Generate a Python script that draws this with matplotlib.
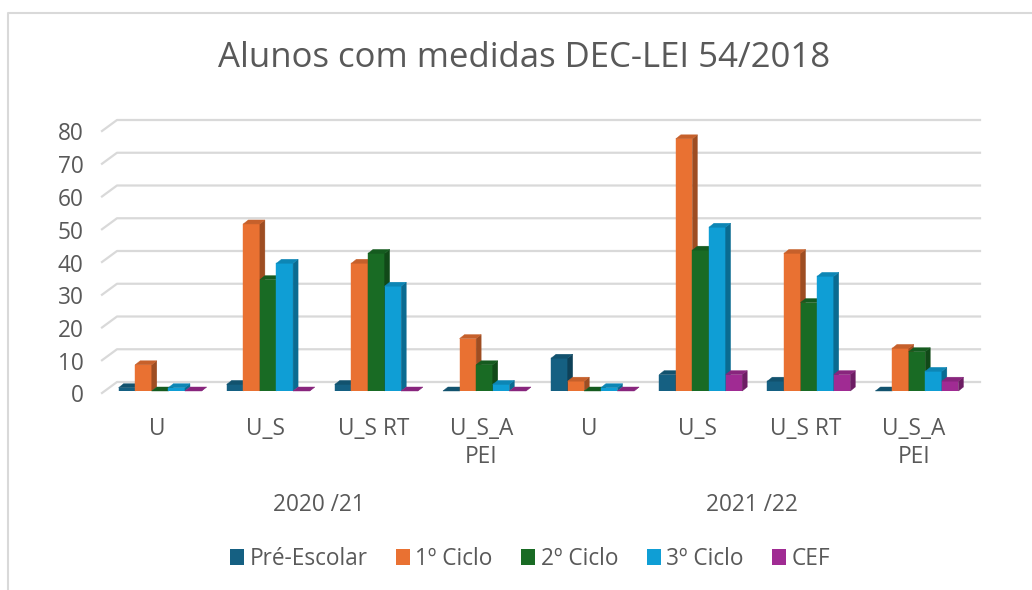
import matplotlib
matplotlib.use('Agg')
import matplotlib.pyplot as plt
import numpy as np
from matplotlib.patches import Polygon, Patch
from matplotlib.lines import Line2D
from matplotlib.transforms import IdentityTransform, ScaledTranslation
import matplotlib.colors as mcolors

# ---------------- data ----------------
categories = ['U', 'U_S', 'U_S RT', 'U_S_A\nPEI', 'U', 'U_S', 'U_S RT', 'U_S_A\nPEI']
years = ['2020 /21', '2021 /22']
series_names = ['Pré-Escolar', '1º Ciclo', '2º Ciclo', '3º Ciclo', 'CEF']
pre_escolar = [1, 2, 2, 0, 10, 5, 3, 0]
ciclo_1 = [8, 51, 39, 16, 3, 77, 42, 13]
ciclo_2 = [0, 34, 42, 8, 0, 43, 27, 12]
ciclo_3 = [1, 39, 32, 2, 1, 50, 35, 6]
cef = [0, 0, 0, 0, 0, 5, 5, 3]
y_ticks = [0, 10, 20, 30, 40, 50, 60, 70, 80]
title = 'Alunos com medidas DEC-LEI 54/2018'

series_values = [pre_escolar, ciclo_1, ciclo_2, ciclo_3, cef]
colors = ['#156082', '#E97132', '#196B24', '#0F9ED5', '#A02B93']

# ---------------- style ----------------
plt.rcParams['font.family'] = ['Open Sans', 'DejaVu Sans']
TXT = '#595959'
GRID = '#D9D9D9'
FS = 16.3

W, H = 1032, 590
fig = plt.figure(figsize=(W / 100, H / 100), dpi=100)
fig.patch.set_facecolor('white')

ax_left, ax_right = 103, 968
ax_bottom, ax_top = 391, 129
ax = fig.add_axes([ax_left / W, (H - ax_bottom) / H,
                   (ax_right - ax_left) / W, (ax_bottom - ax_top) / H])
ax.set_xlim(-0.5, len(categories) - 0.5)
ax.set_ylim(y_ticks[0], y_ticks[-1])
for s in ax.spines.values():
    s.set_visible(False)
ax.patch.set_alpha(0)

px_x = (ax_right - ax_left) / len(categories)            # pixels per x unit
px_y = (ax_bottom - ax_top) / (y_ticks[-1] - y_ticks[0])  # pixels per y unit

# ---------------- back-wall gridlines (3D look) ----------------
fig.canvas.draw()
to_disp = ax.transData
for v in y_ticks:
    xl, yv = to_disp.transform((-0.5, v))
    xr, _ = to_disp.transform((len(categories) - 0.5, v))
    back_y = yv + 9
    front_y = yv - 2
    ln = Line2D([xl - 1, xl + 14, xr + 12], [front_y, back_y, back_y],
                transform=IdentityTransform(), color=GRID, lw=1.6, zorder=0.5,
                clip_on=False)
    ax.add_line(ln)

# ---------------- 3D bars ----------------
bar_w = 16.6 / px_x
shift = 3 / px_x
dx = 5 / px_x
dy = 4 / px_y
n = len(series_names)
x = np.arange(len(categories))

def shade(c, f):
    r, g, b = mcolors.to_rgb(c)
    return (r * f, g * f, b * f)

z = 2
for gi in range(len(categories)):
    for si in range(n):
        v = series_values[si][gi]
        cx = x[gi] + shift + (si - (n - 1) / 2) * bar_w
        x0, x1 = cx - bar_w / 2, cx + bar_w / 2
        col = colors[si]
        side_c = shade(col, 0.68)
        top_c = shade(col, 0.85)
        ax.bar(cx, v, width=bar_w, color=col, edgecolor=col, linewidth=0.3, zorder=z)
        side = Polygon([(x1, 0), (x1 + dx, dy), (x1 + dx, v + dy), (x1, v)],
                       closed=True, facecolor=side_c, edgecolor=side_c, lw=0.3, zorder=z)
        top = Polygon([(x0, v), (x1, v), (x1 + dx, v + dy), (x0 + dx, v + dy)],
                      closed=True, facecolor=top_c, edgecolor=top_c, lw=0.3, zorder=z + 0.001)
        ax.add_patch(side)
        ax.add_patch(top)
        for p in (side, top):
            p.set_clip_on(False)
        z += 0.01

# ---------------- axes labels ----------------
ax.set_yticks(y_ticks)
ax.set_yticklabels([str(t) for t in y_ticks], fontsize=FS, color=TXT)
ax.set_xticks(x)
ax.set_xticklabels(categories, fontsize=FS, color=TXT, linespacing=1.2)
ax.tick_params(axis='y', length=0, pad=14)
ax.tick_params(axis='x', length=0, pad=19)
for lab in ax.get_yticklabels():
    lab.set_transform(lab.get_transform() + ScaledTranslation(0, -2.5 / 100, fig.dpi_scale_trans))

for yi, year in enumerate(years):
    xc = (x[yi * 4] + x[yi * 4 + 3]) / 2
    ax.text(xc, -114 / px_y, year, ha='center', va='center',
            fontsize=FS, color=TXT, transform=ax.transData)

# ---------------- title ----------------
fig.text(524 / W, 1 - 58 / H, title, ha='center', va='center',
         fontsize=25, color=TXT)

# ---------------- legend ----------------
handles = [Patch(facecolor=c, edgecolor='none') for c in colors]
leg = fig.legend(handles, series_names, loc='center', bbox_to_anchor=(530 / W, 1 - 559 / H),
                 ncol=5, frameon=False, fontsize=FS, handlelength=0.62, handleheight=0.7,
                 handletextpad=0.25, columnspacing=1.25, labelcolor=TXT)

# ---------------- chart border ----------------
fig.add_artist(Line2D([8 / W, 8 / W, 1], [0, 1 - 13 / H, 1 - 13 / H],
                      transform=fig.transFigure, color=GRID, lw=1.5))

fig.savefig('out.png', dpi=100)
